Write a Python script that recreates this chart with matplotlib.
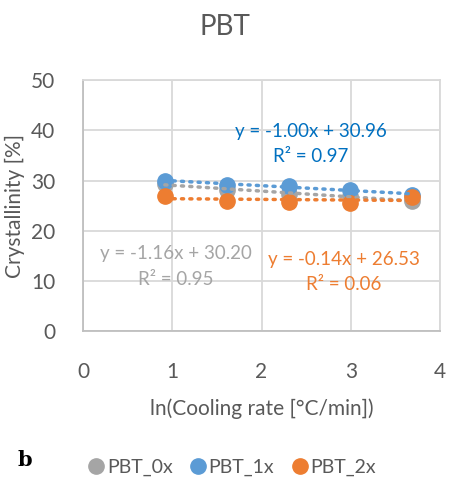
import numpy as np
import matplotlib
matplotlib.use("Agg")
import matplotlib.pyplot as plt
from matplotlib.lines import Line2D

plt.rcParams['font.family'] = ['Lato', 'DejaVu Sans']

x_vals = np.log([2.5, 5, 10, 20, 40])
series_names = ["PBT_0x", "PBT_1x", "PBT_2x"]
pbt_0x = [29.3, 28.2, 27.3, 27.0, 25.9]
pbt_1x = [30.0, 29.2, 28.9, 28.1, 27.2]
pbt_2x = [27.0, 26.0, 25.7, 25.5, 26.8]
colors = ["#A5A5A5", "#5B9BD5", "#ED7D31"]
eq_colors = ["#A5A5A5", "#0070C0", "#ED7D31"]
equations = ["y = -1.16x + 30.20", "y = -1.00x + 30.96", "y = -0.14x + 26.53"]
r2_texts = ["R² = 0.95", "R² = 0.97", "R² = 0.06"]
eq_pos = [(1.04, 15.5, 10.2), (2.55, 39.8, 34.7), (2.92, 14.3, 9.2)]

fig = plt.figure(figsize=(4.49, 4.88), dpi=100)
ax = fig.add_axes([0.185, 0.3217, 0.795, 0.514])

data = [pbt_0x, pbt_1x, pbt_2x]
for ys, c in zip(data, colors):
    ax.plot(x_vals, ys, 'o', color=c, markersize=11, zorder=3, clip_on=False)
# trendlines
for ys, c in zip(data, colors):
    m, b = np.polyfit(x_vals, ys, 1)
    xx = np.array([x_vals[0], x_vals[-1]])
    ax.plot(xx, m * xx + b, linestyle=(0, (0.6, 1.8)), dash_capstyle='round',
            color=c, linewidth=2.5, zorder=4)

for (ex, ey, ry), eq, r2, c in zip(eq_pos, equations, r2_texts, eq_colors):
    ax.text(ex, ey, eq, color=c, fontsize=13.5, ha='center', va='center', zorder=5)
    ax.text(ex, ry, r2, color=c, fontsize=13.5, ha='center', va='center', zorder=5)

ax.set_xlim(0, 4)
ax.set_ylim(0, 50)
ax.set_xticks([0, 1, 2, 3, 4])
ax.set_yticks([0, 10, 20, 30, 40, 50])
ax.grid(True, color="#D9D9D9", linewidth=1.3)
ax.set_axisbelow(True)
for s in ax.spines.values():
    s.set_color("#D9D9D9")
    s.set_linewidth(1.3)
ax.spines['left'].set_color("#BFBFBF")
ax.spines['bottom'].set_color("#BFBFBF")
ax.tick_params(length=0, labelsize=15, labelcolor="#595959")
ax.tick_params(axis='x', pad=22)
ax.tick_params(axis='y', pad=20)
ax.set_xlabel("ln(Cooling rate [°C/min])", fontsize=15, color="#595959", labelpad=12)
ax.set_ylabel("Crystallinity [%]", fontsize=15, color="#595959", labelpad=4)

fig.text(0.5, 0.945, "PBT", fontsize=20, color="#595959", ha='center', va='center')
fig.text(0.04, 0.058, "b", fontsize=15, fontweight='bold', family='DejaVu Serif',
         ha='left', va='center')

handles = [Line2D([], [], marker='o', linestyle='None', color=c, markersize=11)
           for c in colors]
leg = fig.legend(handles, series_names, loc='center', bbox_to_anchor=(0.515, 0.043),
                 ncol=3, frameon=False, fontsize=14, handletextpad=0.05,
                 columnspacing=0.8, handlelength=1.0)
for t in leg.get_texts():
    t.set_color("#595959")

fig.savefig("out.png", dpi=100)
